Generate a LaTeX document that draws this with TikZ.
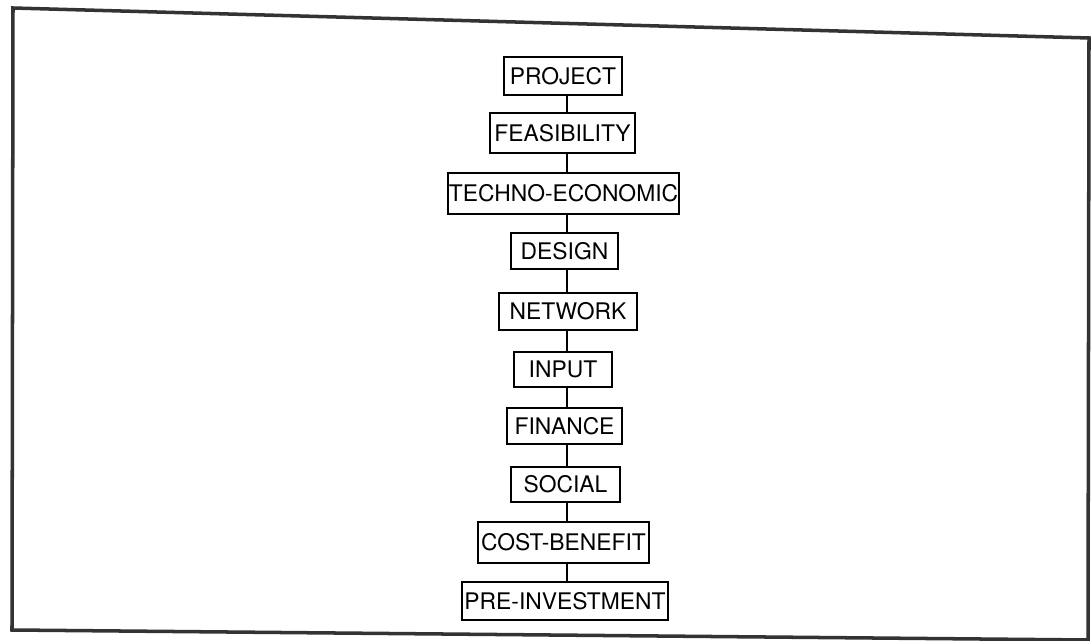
\documentclass[tikz,border=0pt]{standalone}
\usepackage{fontspec}
\setmainfont{TeX Gyre Heros}
\usepackage{tikz}

\newcommand{\stagefont}{\fontsize{13}{15}\selectfont}

\begin{document}
\begin{tikzpicture}[x=0.02cm,y=-0.02cm,
    stage/.style={draw, line width=1.3pt, inner sep=0pt, font=\stagefont},
    link/.style={line width=1.3pt},
    frame/.style={line width=2pt, draw=black!80, line join=miter}]
         \useasboundingbox (0,0) rectangle (1092,641);

         % outer frame (scanned, slightly skewed)
         \coordinate (TL) at (13,8);
         \coordinate (TR) at (1089,38);
         \coordinate (BR) at (1088,640);
         \coordinate (BL) at (12,630);
         \draw[frame] (TL) -- (TR) -- (BR) -- (BL) -- cycle;

         \coordinate (spine) at (567,0);

         \node[stage, minimum width=2.36cm, minimum height=0.76cm] (V1) at (563,76) {PROJECT};
         \node[stage, minimum width=2.90cm, minimum height=0.80cm] (V2) at (562.5,133) {FEASIBILITY};
         \node[stage, minimum width=4.62cm, minimum height=0.82cm] (V3) at (563.5,193.5) {TECHNO-ECONOMIC};
         \node[stage, minimum width=2.14cm, minimum height=0.72cm] (V4) at (564.5,251) {DESIGN};
         \node[stage, minimum width=2.76cm, minimum height=0.74cm] (V5) at (568,311.5) {NETWORK};
         \node[stage, minimum width=1.96cm, minimum height=0.70cm] (V6) at (563,369.5) {INPUT};
         \node[stage, minimum width=2.30cm, minimum height=0.72cm] (V7) at (564.5,426) {FINANCE};
         \node[stage, minimum width=2.18cm, minimum height=0.70cm] (V8) at (565.5,484.5) {SOCIAL};
         \node[stage, minimum width=3.42cm, minimum height=0.82cm] (V9) at (563.5,542.5) {COST-BENEFIT};
         \node[stage, minimum width=4.12cm, minimum height=0.76cm] (V10) at (565,601) {PRE-INVESTMENT};

         \foreach \a/\b in {V1/V2,V2/V3,V3/V4,V4/V5,V5/V6,V6/V7,V7/V8,V8/V9,V9/V10}
            \draw[link] (\a.south -| spine) -- (\b.north -| spine);
      \end{tikzpicture}
\end{document}
